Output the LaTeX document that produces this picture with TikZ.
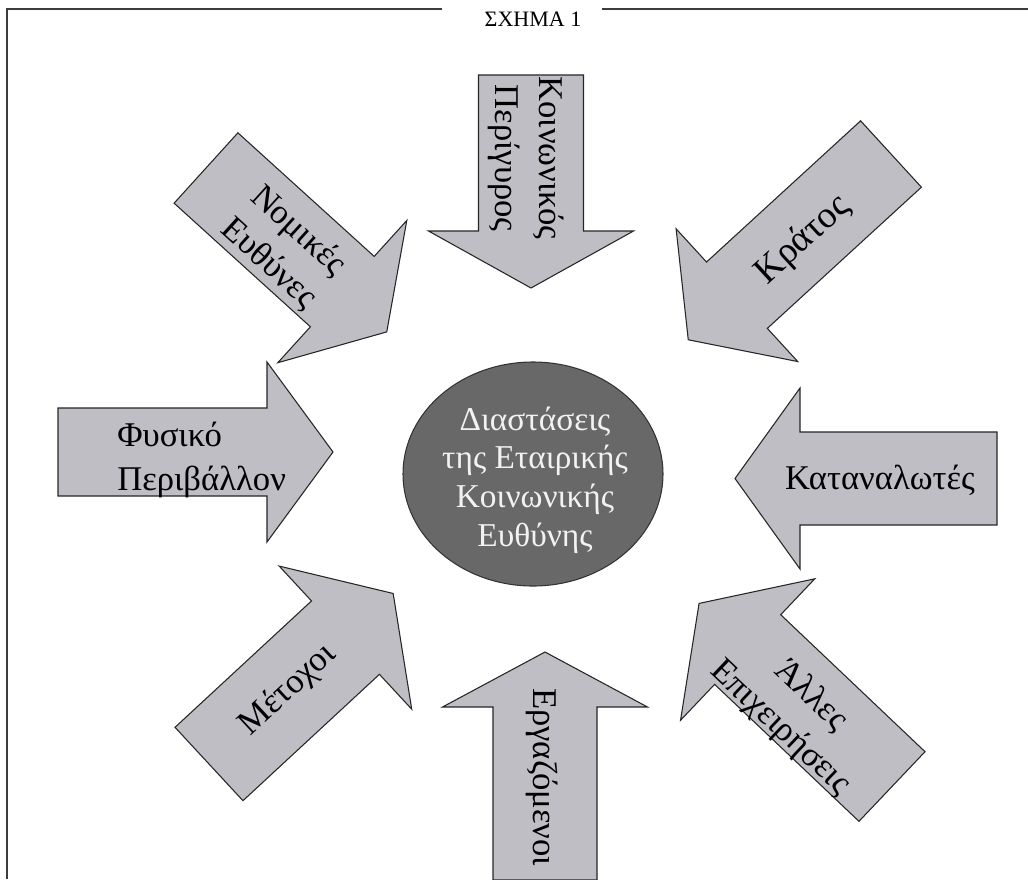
\documentclass[tikz,border=0pt]{standalone}
\usepackage{fontspec}
\setmainfont{Liberation Serif}
\definecolor{arrowgray}{HTML}{BEBEC4}
\definecolor{coregray}{HTML}{686868}
\definecolor{coretext}{HTML}{F2F2F2}
\definecolor{framegray}{HTML}{3C3C3C}
\tikzset{
  arrowbox/.style={draw=black!85, line width=0.8pt, fill=arrowgray, line join=miter},
  lbl/.style={inner sep=0pt, align=center, font=\fontsize{26}{33}\selectfont},
  corebox/.style={draw=black!80, line width=0.8pt, fill=coregray},
  coretxt/.style={inner sep=0pt, align=center, text=coretext, font=\fontsize{25}{29}\selectfont},
  framebox/.style={draw=framegray, line width=1.1pt}
}
% #1 tail centre, #2 angle, #3 length, #4 shaft width, #5 head width, #6 head length
\newcommand\fatarrow[6]{%
  \begin{scope}[shift={#1}, rotate=#2]
    \draw[arrowbox] (0,-#4/2) -- ({#3-#6},-#4/2) -- ({#3-#6},-#5/2) -- (#3,0)
      -- ({#3-#6},#5/2) -- ({#3-#6},#4/2) -- (0,#4/2) -- cycle;
  \end{scope}}
\begin{document}
\begin{tikzpicture}[x=0.75pt,y=-0.75pt]
\useasboundingbox (0,0) rectangle (1028,879);
% frame
\coordinate (fbl) at (7,879);
\coordinate (ftl) at (7,9);
\coordinate (fgl) at (442,9);
\coordinate (fgr) at (602,9);
\coordinate (ftr) at (1028,9);
\draw[framebox] (fbl) -- (ftl) -- (fgl);
\draw[framebox] (fgr) -- (ftr);
\node (title) [inner sep=0pt, font=\fontsize{16.5}{18}\selectfont] at (533,19) {ΣΧΗΜΑ 1};

% centre ellipse
\draw[corebox] (533,474) ellipse [x radius=130, y radius=112];
\node (core) [coretxt] at (535,480) {Διαστάσεις\\της Εταιρικής\\Κοινωνικής\\Ευθύνης};

% arrows
\fatarrow{(531,75)}{-90}{213}{105}{205}{57}
\fatarrow{(891,154)}{-137.5}{275}{90}{180}{66}
\fatarrow{(206,168)}{-42.2}{244}{95}{192}{60}
\fatarrow{(58,452)}{0}{275}{88}{180}{66}
\fatarrow{(997,478.5)}{180}{262}{93}{181}{65}
\fatarrow{(209,764)}{42.8}{251}{100}{195}{65}
\fatarrow{(545,880)}{90}{228}{104}{205}{55}
\fatarrow{(892,786.5)}{136.5}{266}{96}{195}{67}

% labels
\node (lperi) [lbl, rotate=-90] at (526,158) {Κοινωνικός\\Περίγυρος};
\node (lkrat) [lbl, rotate=42.5, font=\fontsize{28}{33}\selectfont] at (803,240) {Κράτος};
\node (lnom) [lbl, rotate=-42.2] at (283.5,247.5) {Νομικές\\Ευθύνες};
\node (lfys) [lbl, align=left, anchor=west] at (117,460) {Φυσικό\\Περιβάλλον};
\node (lkat) [lbl] at (880,480) {Καταναλωτές};
\node (lmet) [lbl, rotate=42.8] at (288,690) {Μέτοχοι};
\node (lerg) [lbl, rotate=-90] at (542,777) {Εργαζόμενοι};
\node (lall) [lbl, rotate=-43.5] at (795.5,712) {Άλλες\\Επιχειρήσεις};
\end{tikzpicture}
\end{document}
